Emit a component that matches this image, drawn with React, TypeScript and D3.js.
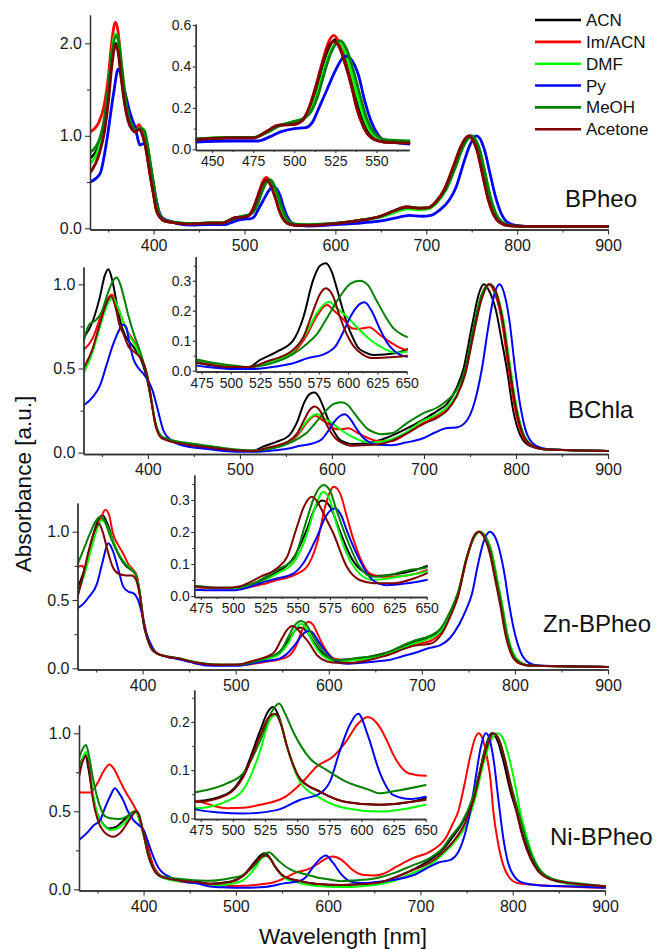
import React, { useEffect, useRef } from 'react'
import * as d3 from 'd3'

type Pt = [number, number]

const solvents = ['ACN', 'Im/ACN', 'DMF', 'Py', 'MeOH', 'Acetone']
const solventColors = ['#000000', '#ff0000', '#00ff00', '#0000ff', '#008000', '#800000']
const panelNames = ['BPheo', 'BChla', 'Zn-BPheo', 'Ni-BPheo']

const mainXTicks = [400, 500, 600, 700, 800, 900]
const mainXMinor = [350, 450, 550, 650, 750, 850]
const bpheoYTicks = [0, 1, 2]
const bpheoYMinor = [0.5, 1.5]
const otherYTicks = [0, 0.5, 1]
const otherYMinor = [0.25, 0.75]
const inset1XTicks = [450, 475, 500, 525, 550]
const inset1XMinor = [462.5, 487.5, 512.5, 537.5, 562.5]
const inset1YTicks = [0, 0.2, 0.4, 0.6]
const inset1YMinor = [0.1, 0.3, 0.5]
const insetXTicks = [475, 500, 525, 550, 575, 600, 625, 650]
const insetXMinor = [487.5, 512.5, 537.5, 562.5, 587.5, 612.5, 637.5]
const insetYTicks = [0, 0.1, 0.2, 0.3]
const insetYMinor = [0.05, 0.15, 0.25, 0.35]
const inset4YTicks = [0, 0.1, 0.2]
const inset4YMinor = [0.05, 0.15, 0.25]

// ---------- BPheo
const bpheoACN: Pt[] = [[330,0.76],[340,0.9],[346,1.15],[350,1.45],[354,1.82],[358,2.0],[361,1.93],[364,1.7],[368,1.38],[372,1.18],[376,1.08],[380,1.05],[384,1.08],[388,1.01],[392,0.84],[396,0.6],[400,0.37],[403,0.2],[407,0.12],[412,0.08],[420,0.066],[440,0.047],[460,0.055],[475,0.055],[483,0.085],[490,0.115],[500,0.125],[505,0.14],[509,0.19],[513,0.28],[517,0.4],[521,0.49],[525,0.53],[528,0.51],[532,0.42],[536,0.3],[539,0.2],[543,0.11],[548,0.055],[555,0.035],[570,0.032],[600,0.05],[630,0.09],[650,0.13],[665,0.19],[678,0.225],[692,0.21],[702,0.22],[711,0.28],[721,0.42],[731,0.67],[739,0.88],[744,0.97],[748,1.0],[752,0.96],[757,0.84],[763,0.58],[769,0.32],[775,0.15],[781,0.07],[791,0.03],[820,0.02],[900,0.02]]
const bpheoIm: Pt[] = [[330,1.04],[340,1.15],[346,1.35],[350,1.62],[354,2.02],[358,2.23],[361,2.12],[364,1.8],[368,1.42],[372,1.2],[376,1.1],[380,1.08],[384,1.12],[388,1.03],[392,0.85],[396,0.6],[400,0.37],[403,0.2],[407,0.12],[412,0.08],[420,0.065],[440,0.048],[460,0.055],[475,0.055],[483,0.085],[490,0.115],[500,0.12],[505,0.14],[509,0.2],[513,0.3],[517,0.42],[521,0.52],[524,0.55],[527,0.52],[531,0.42],[535,0.3],[538,0.2],[542,0.11],[547,0.055],[555,0.035],[570,0.03],[600,0.05],[630,0.09],[650,0.13],[665,0.19],[678,0.23],[692,0.215],[702,0.22],[710,0.28],[720,0.42],[730,0.67],[738,0.88],[743,0.97],[747,1.0],[751,0.96],[756,0.84],[762,0.58],[768,0.32],[774,0.15],[780,0.07],[790,0.03],[820,0.02],[900,0.02]]
const bpheoDMF: Pt[] = [[330,0.7],[340,0.88],[346,1.15],[350,1.48],[354,1.9],[358,2.1],[361,2.05],[364,1.78],[368,1.45],[372,1.22],[376,1.1],[380,1.06],[385,1.08],[389,1.07],[393,0.9],[397,0.65],[401,0.38],[405,0.18],[409,0.11],[414,0.08],[420,0.07],[440,0.05],[460,0.058],[475,0.057],[483,0.08],[490,0.11],[500,0.135],[506,0.15],[510,0.19],[514,0.27],[518,0.38],[522,0.47],[527,0.52],[531,0.47],[535,0.36],[539,0.24],[543,0.14],[548,0.07],[555,0.045],[570,0.035],[600,0.05],[630,0.09],[650,0.12],[665,0.17],[680,0.21],[692,0.2],[702,0.21],[712,0.28],[722,0.42],[732,0.66],[740,0.87],[746,0.97],[750,1.0],[754,0.96],[759,0.84],[765,0.58],[771,0.32],[777,0.15],[783,0.07],[793,0.03],[820,0.02],[900,0.02]]
const bpheoPy: Pt[] = [[330,0.5],[341,0.59],[348,0.92],[356,1.46],[361,1.72],[367,1.53],[374,1.25],[380,1.08],[385,0.9],[390,0.92],[393,0.88],[396,0.7],[400,0.48],[403,0.3],[406,0.18],[410,0.11],[420,0.07],[440,0.035],[460,0.04],[478,0.04],[485,0.06],[492,0.085],[500,0.1],[507,0.105],[511,0.13],[515,0.2],[520,0.29],[525,0.38],[530,0.445],[532,0.45],[535,0.43],[539,0.36],[543,0.23],[547,0.13],[551,0.07],[556,0.04],[570,0.025],[600,0.04],[630,0.06],[650,0.08],[665,0.11],[682,0.14],[695,0.13],[705,0.14],[715,0.2],[725,0.3],[733,0.45],[740,0.67],[748,0.9],[755,1.0],[759,0.97],[764,0.85],[770,0.6],[776,0.35],[782,0.17],[790,0.06],[800,0.03],[820,0.02],[900,0.02]]
const bpheoMeOH: Pt[] = [[330,0.82],[340,0.95],[346,1.2],[350,1.5],[354,1.88],[359,2.08],[362,2.0],[365,1.75],[369,1.42],[373,1.2],[377,1.1],[381,1.06],[386,1.08],[390,1.05],[394,0.86],[398,0.6],[402,0.35],[406,0.17],[410,0.1],[415,0.08],[420,0.07],[440,0.05],[460,0.058],[475,0.057],[483,0.08],[490,0.11],[500,0.135],[506,0.15],[510,0.18],[514,0.25],[518,0.36],[522,0.46],[528,0.525],[532,0.48],[536,0.38],[540,0.26],[544,0.15],[549,0.075],[556,0.045],[570,0.04],[600,0.055],[630,0.09],[650,0.13],[665,0.19],[680,0.23],[692,0.22],[702,0.22],[712,0.29],[722,0.43],[732,0.66],[740,0.87],[746,0.97],[750,1.0],[754,0.96],[759,0.84],[765,0.58],[771,0.32],[777,0.15],[783,0.07],[793,0.03],[820,0.02],[900,0.02]]
const bpheoAcetone: Pt[] = [[330,0.6],[340,0.8],[346,1.05],[350,1.35],[354,1.75],[358,1.98],[361,1.9],[364,1.65],[368,1.35],[372,1.16],[376,1.07],[380,1.04],[384,1.07],[388,1.0],[392,0.83],[396,0.58],[400,0.36],[403,0.2],[407,0.12],[412,0.08],[420,0.065],[440,0.046],[460,0.055],[475,0.055],[483,0.085],[490,0.115],[500,0.12],[505,0.14],[509,0.2],[513,0.3],[517,0.41],[521,0.5],[524,0.52],[527,0.5],[531,0.41],[535,0.3],[538,0.2],[542,0.11],[547,0.055],[555,0.035],[570,0.03],[600,0.05],[630,0.09],[650,0.13],[665,0.19],[678,0.23],[692,0.215],[702,0.22],[710,0.28],[720,0.42],[730,0.67],[738,0.88],[743,0.97],[747,1.0],[751,0.96],[756,0.84],[762,0.58],[768,0.32],[774,0.15],[780,0.07],[790,0.03],[820,0.02],[900,0.02]]

// ---------- BChla
const bchlaACN: Pt[] = [[330,0.68],[340,0.78],[348,0.93],[353,1.05],[357,1.09],[361,1.03],[365,0.92],[370,0.78],[375,0.7],[384,0.63],[392,0.56],[398,0.46],[403,0.33],[408,0.18],[414,0.1],[420,0.08],[440,0.05],[460,0.035],[480,0.02],[500,0.01],[515,0.012],[525,0.036],[539,0.063],[553,0.1],[562,0.18],[570,0.3],[576,0.35],[581,0.358],[586,0.33],[590,0.28],[595,0.21],[599,0.158],[604,0.11],[608,0.08],[615,0.06],[622,0.052],[640,0.058],[660,0.09],[680,0.14],[700,0.2],[715,0.25],[725,0.29],[735,0.38],[743,0.5],[752,0.75],[760,0.95],[765,1.0],[770,0.97],[778,0.85],[785,0.65],[790,0.5],[797,0.25],[805,0.1],[815,0.04],[830,0.02],[900,0.01]]
const bchlaIm: Pt[] = [[330,0.61],[340,0.68],[348,0.8],[355,0.9],[361,0.94],[366,0.88],[373,0.78],[380,0.7],[385,0.66],[391,0.58],[396,0.52],[400,0.44],[404,0.3],[408,0.17],[414,0.1],[420,0.08],[440,0.055],[460,0.04],[480,0.025],[500,0.012],[515,0.01],[530,0.025],[553,0.06],[565,0.12],[573,0.18],[582,0.219],[588,0.2],[595,0.175],[604,0.141],[610,0.14],[618,0.145],[627,0.12],[638,0.09],[650,0.07],[665,0.07],[680,0.11],[699,0.175],[715,0.22],[725,0.26],[735,0.33],[745,0.48],[753,0.7],[762,0.92],[770,1.0],[776,0.96],[784,0.8],[792,0.5],[799,0.26],[807,0.1],[817,0.04],[830,0.02],[900,0.01]]
const bchlaDMF: Pt[] = [[330,0.47],[340,0.6],[348,0.75],[356,0.88],[362,0.92],[367,0.87],[373,0.78],[379,0.7],[385,0.65],[391,0.58],[396,0.52],[400,0.44],[404,0.31],[408,0.18],[414,0.1],[420,0.08],[440,0.055],[460,0.04],[480,0.025],[500,0.013],[515,0.012],[530,0.025],[553,0.065],[565,0.13],[573,0.19],[584,0.23],[590,0.21],[599,0.18],[610,0.135],[620,0.1],[630,0.075],[640,0.06],[650,0.063],[665,0.08],[680,0.12],[699,0.19],[715,0.23],[725,0.27],[735,0.34],[745,0.47],[753,0.68],[762,0.9],[772,1.0],[778,0.96],[786,0.8],[794,0.5],[801,0.26],[809,0.1],[819,0.04],[830,0.02],[900,0.01]]
const bchlaPy: Pt[] = [[330,0.28],[340,0.33],[348,0.4],[355,0.52],[362,0.64],[368,0.72],[373,0.76],[376,0.75],[380,0.65],[384,0.56],[390,0.5],[395,0.47],[400,0.43],[405,0.37],[410,0.27],[417,0.13],[425,0.075],[440,0.04],[460,0.025],[480,0.012],[500,0.006],[520,0.006],[540,0.015],[553,0.025],[565,0.041],[581,0.058],[589,0.08],[596,0.13],[602,0.18],[608,0.215],[614,0.228],[620,0.2],[627,0.14],[633,0.095],[639,0.067],[650,0.047],[665,0.045],[680,0.06],[699,0.086],[712,0.12],[724,0.145],[735,0.15],[745,0.18],[755,0.3],[763,0.5],[770,0.75],[776,0.93],[782,1.0],[787,0.95],[793,0.78],[799,0.5],[805,0.27],[812,0.11],[822,0.04],[835,0.02],[900,0.01]]
const bchlaMeOH: Pt[] = [[330,0.66],[336,0.76],[344,0.79],[350,0.84],[356,0.94],[362,1.02],[366,1.04],[370,1.0],[374,0.92],[379,0.81],[385,0.7],[391,0.61],[396,0.52],[400,0.43],[404,0.3],[408,0.18],[414,0.1],[420,0.085],[440,0.06],[460,0.045],[480,0.03],[500,0.018],[515,0.012],[530,0.02],[553,0.055],[565,0.09],[573,0.12],[581,0.169],[593,0.247],[602,0.29],[610,0.3],[617,0.285],[624,0.236],[632,0.18],[639,0.14],[646,0.12],[653,0.11],[665,0.115],[680,0.17],[699,0.234],[715,0.27],[725,0.31],[735,0.37],[745,0.5],[753,0.72],[762,0.93],[771,1.0],[777,0.96],[785,0.8],[793,0.5],[800,0.27],[808,0.11],[818,0.04],[830,0.02],[900,0.01]]
const bchlaAcetone: Pt[] = [[330,0.5],[340,0.62],[348,0.77],[355,0.89],[360,0.93],[365,0.86],[369,0.76],[373,0.71],[379,0.63],[385,0.6],[391,0.57],[396,0.52],[400,0.44],[404,0.3],[408,0.17],[414,0.09],[420,0.075],[440,0.05],[460,0.035],[480,0.022],[500,0.012],[515,0.012],[530,0.03],[553,0.069],[562,0.113],[570,0.197],[576,0.255],[581,0.275],[587,0.25],[593,0.18],[599,0.12],[605,0.08],[612,0.055],[620,0.042],[635,0.045],[650,0.05],[665,0.07],[680,0.11],[699,0.17],[715,0.21],[725,0.25],[735,0.33],[745,0.47],[753,0.68],[762,0.9],[771,1.0],[777,0.97],[785,0.8],[793,0.5],[800,0.26],[808,0.1],[818,0.04],[830,0.02],[900,0.01]]

// ---------- Zn-BPheo
const znACN: Pt[] = [[330,0.585],[340,0.78],[347,0.98],[352,1.08],[357,1.12],[362,1.06],[368,0.94],[375,0.82],[382,0.75],[388,0.72],[393,0.68],[397,0.55],[401,0.33],[405,0.22],[409,0.15],[415,0.11],[426,0.085],[440,0.07],[451,0.05],[470,0.03],[485,0.025],[500,0.025],[510,0.03],[521,0.045],[534,0.075],[547,0.12],[557,0.206],[563,0.27],[569,0.298],[575,0.28],[583,0.2],[588,0.15],[593,0.11],[598,0.085],[604,0.07],[611,0.063],[625,0.068],[640,0.08],[660,0.11],[680,0.16],[691,0.19],[709,0.23],[720,0.28],[730,0.4],[739,0.55],[748,0.8],[756,0.96],[762,1.0],[767,0.97],[774,0.85],[780,0.65],[785,0.48],[791,0.25],[798,0.1],[806,0.04],[815,0.02],[900,0.01]]
const znIm: Pt[] = [[330,0.74],[335,0.75],[338,0.72],[342,0.82],[348,0.98],[355,1.1],[360,1.16],[364,1.12],[368,0.99],[374,0.9],[379,0.84],[385,0.76],[390,0.72],[394,0.67],[398,0.5],[402,0.31],[406,0.2],[410,0.14],[416,0.11],[426,0.085],[440,0.07],[451,0.05],[470,0.028],[485,0.024],[500,0.024],[510,0.026],[521,0.035],[534,0.05],[547,0.065],[557,0.09],[565,0.165],[572,0.289],[578,0.341],[583,0.32],[588,0.25],[593,0.18],[598,0.123],[606,0.07],[615,0.06],[630,0.062],[650,0.081],[665,0.11],[680,0.15],[691,0.175],[709,0.2],[720,0.26],[730,0.38],[739,0.54],[748,0.8],[756,0.96],[762,1.0],[768,0.97],[775,0.85],[781,0.64],[786,0.47],[792,0.24],[799,0.09],[807,0.04],[815,0.02],[900,0.01]]
const znDMF: Pt[] = [[330,0.55],[338,0.7],[345,0.88],[351,1.02],[356,1.085],[361,1.05],[367,0.95],[374,0.84],[381,0.77],[387,0.73],[392,0.69],[397,0.55],[401,0.33],[405,0.22],[409,0.15],[415,0.11],[426,0.085],[440,0.07],[451,0.05],[470,0.028],[485,0.025],[500,0.024],[510,0.028],[521,0.042],[534,0.07],[547,0.105],[557,0.19],[563,0.27],[570,0.326],[575,0.3],[580,0.227],[588,0.133],[598,0.07],[608,0.05],[620,0.055],[635,0.065],[650,0.077],[665,0.11],[680,0.15],[691,0.18],[709,0.22],[720,0.27],[730,0.39],[739,0.55],[748,0.8],[756,0.96],[763,1.0],[768,0.97],[775,0.85],[781,0.65],[786,0.48],[792,0.25],[799,0.1],[807,0.04],[815,0.02],[900,0.01]]
const znPy: Pt[] = [[330,0.44],[336,0.47],[342,0.52],[351,0.62],[357,0.78],[363,0.915],[368,0.86],[374,0.72],[379,0.6],[385,0.56],[390,0.55],[395,0.5],[400,0.38],[404,0.26],[410,0.16],[415,0.11],[426,0.085],[440,0.065],[451,0.045],[470,0.02],[485,0.018],[500,0.018],[510,0.025],[521,0.04],[534,0.055],[547,0.071],[554,0.1],[565,0.185],[572,0.25],[579,0.274],[584,0.25],[588,0.206],[598,0.113],[608,0.05],[619,0.034],[635,0.04],[650,0.05],[665,0.06],[680,0.09],[691,0.11],[709,0.15],[720,0.17],[730,0.22],[740,0.32],[747,0.42],[754,0.55],[760,0.75],[766,0.92],[773,1.0],[778,0.97],[784,0.85],[789,0.68],[793,0.5],[799,0.28],[806,0.12],[815,0.04],[825,0.02],[900,0.01]]
const znMeOH: Pt[] = [[330,0.76],[336,0.86],[343,0.98],[349,1.07],[354,1.11],[359,1.08],[365,0.97],[372,0.86],[379,0.78],[386,0.73],[392,0.69],[397,0.55],[401,0.33],[405,0.22],[409,0.15],[415,0.11],[426,0.088],[440,0.072],[451,0.053],[470,0.032],[485,0.027],[500,0.026],[510,0.032],[521,0.05],[534,0.082],[547,0.116],[557,0.237],[563,0.31],[570,0.347],[575,0.33],[580,0.27],[588,0.18],[598,0.092],[608,0.06],[620,0.065],[635,0.08],[650,0.09],[665,0.12],[680,0.17],[691,0.2],[709,0.24],[720,0.29],[730,0.41],[739,0.56],[748,0.81],[756,0.96],[762,1.0],[767,0.97],[774,0.86],[780,0.66],[785,0.49],[791,0.26],[798,0.1],[806,0.04],[815,0.02],[900,0.01]]
const znAcetone: Pt[] = [[330,0.52],[336,0.68],[342,0.86],[348,1.0],[353,1.06],[357,1.0],[362,0.87],[368,0.74],[375,0.69],[382,0.68],[388,0.68],[392,0.66],[397,0.53],[401,0.33],[405,0.22],[409,0.15],[415,0.11],[426,0.085],[440,0.07],[451,0.05],[470,0.03],[485,0.026],[500,0.027],[508,0.034],[521,0.06],[534,0.087],[542,0.123],[549,0.21],[555,0.28],[561,0.31],[566,0.29],[570,0.258],[578,0.193],[588,0.092],[598,0.05],[609,0.04],[624,0.04],[640,0.055],[650,0.071],[665,0.1],[680,0.14],[691,0.165],[709,0.18],[720,0.24],[730,0.37],[739,0.53],[748,0.8],[756,0.97],[761,1.0],[766,0.97],[773,0.84],[779,0.64],[784,0.47],[790,0.24],[797,0.09],[805,0.035],[815,0.02],[900,0.01]]

// ---------- Ni-BPheo
const niACN: Pt[] = [[330,0.78],[334,0.84],[337,0.86],[340,0.78],[345,0.6],[350,0.48],[356,0.42],[363,0.39],[370,0.4],[378,0.44],[385,0.48],[391,0.5],[396,0.44],[400,0.35],[405,0.22],[410,0.14],[416,0.09],[425,0.07],[440,0.055],[460,0.045],[472,0.036],[495,0.05],[508,0.09],[521,0.18],[527,0.22],[531,0.231],[536,0.21],[542,0.15],[552,0.083],[568,0.055],[588,0.034],[614,0.028],[640,0.035],[660,0.05],[674,0.08],[690,0.12],[710,0.187],[725,0.26],[735,0.335],[745,0.42],[755,0.55],[763,0.72],[770,0.9],[777,1.0],[783,0.96],[790,0.82],[797,0.64],[804,0.5],[812,0.33],[820,0.2],[828,0.12],[840,0.07],[855,0.045],[875,0.03],[900,0.02]]
const niIm: Pt[] = [[330,0.62],[342,0.62],[350,0.68],[357,0.76],[363,0.8],[368,0.77],[374,0.7],[380,0.63],[385,0.58],[390,0.53],[394,0.48],[399,0.38],[403,0.316],[407,0.22],[410,0.16],[416,0.1],[425,0.07],[440,0.05],[460,0.04],[472,0.036],[495,0.021],[508,0.022],[521,0.028],[541,0.045],[557,0.083],[565,0.107],[578,0.128],[588,0.159],[597,0.195],[605,0.21],[614,0.19],[620,0.16],[625,0.131],[637,0.093],[650,0.088],[660,0.1],[674,0.145],[692,0.2],[710,0.24],[728,0.335],[735,0.42],[741,0.5],[748,0.68],[755,0.88],[760,0.98],[763,1.0],[767,0.97],[772,0.85],[776,0.7],[779,0.5],[784,0.3],[790,0.15],[797,0.07],[805,0.04],[820,0.03],[850,0.02],[900,0.01]]
const niDMF: Pt[] = [[330,0.74],[334,0.84],[337.6,0.88],[341,0.8],[345,0.62],[350,0.48],[357,0.41],[364,0.38],[372,0.39],[380,0.43],[386,0.47],[391,0.5],[395,0.45],[400,0.35],[405,0.22],[410,0.14],[416,0.09],[425,0.065],[440,0.05],[460,0.04],[472,0.021],[495,0.035],[508,0.059],[521,0.138],[528,0.2],[533,0.214],[537,0.2],[542,0.15],[552,0.077],[568,0.042],[588,0.021],[614,0.014],[635,0.02],[650,0.028],[674,0.06],[690,0.1],[710,0.155],[725,0.23],[738,0.31],[750,0.42],[760,0.6],[768,0.8],[776,0.95],[784,1.0],[790,0.96],[797,0.82],[803,0.66],[808,0.5],[815,0.34],[822,0.21],[830,0.12],[842,0.065],[855,0.04],[875,0.025],[900,0.02]]
const niPy: Pt[] = [[330,0.316],[340,0.37],[346,0.41],[353,0.444],[358,0.52],[364,0.6],[369,0.647],[373,0.62],[378,0.57],[383,0.5],[389,0.444],[395,0.41],[400,0.38],[405,0.3],[410.5,0.21],[416,0.14],[421,0.104],[430,0.075],[443,0.05],[460,0.035],[472,0.018],[490,0.012],[508,0.01],[534,0.017],[552,0.038],[568,0.052],[575.5,0.076],[583,0.138],[590.8,0.193],[597.5,0.217],[605,0.172],[614,0.097],[625,0.048],[638,0.04],[650,0.045],[670,0.06],[692,0.09],[710,0.145],[721,0.175],[732,0.187],[742,0.25],[749,0.37],[754,0.5],[760,0.72],[765,0.9],[771,1.0],[775,0.96],[780,0.8],[783,0.65],[786,0.5],[790,0.32],[795,0.17],[802,0.08],[812,0.04],[830,0.025],[860,0.02],[900,0.01]]
const niMeOH: Pt[] = [[330,0.84],[334,0.9],[337.6,0.925],[341,0.85],[345.5,0.7],[352.8,0.53],[358,0.47],[364,0.455],[374,0.45],[383,0.47],[390,0.5],[394,0.49],[400,0.36],[405,0.23],[410,0.145],[421,0.08],[443,0.065],[471,0.054],[495,0.072],[508,0.093],[521,0.159],[530,0.22],[536,0.238],[541,0.215],[547,0.179],[560,0.124],[573,0.1],[588,0.076],[605,0.06],[614,0.052],[625,0.056],[650,0.069],[674,0.11],[690,0.15],[710,0.2],[725,0.27],[732,0.33],[745,0.43],[755,0.56],[764,0.75],[772,0.93],[779,1.0],[785,0.96],[792,0.82],[799,0.65],[806,0.5],[814,0.33],[822,0.2],[830,0.12],[842,0.07],[855,0.05],[875,0.035],[900,0.02]]
const niAcetone: Pt[] = [[330,0.72],[334,0.82],[337.6,0.855],[341,0.77],[345,0.58],[350,0.45],[357,0.37],[367,0.337],[376,0.37],[384,0.44],[390,0.49],[393,0.5],[397,0.43],[401,0.33],[405,0.22],[410,0.14],[416,0.09],[425,0.07],[440,0.055],[460,0.045],[472,0.034],[495,0.048],[508,0.085],[521,0.17],[528,0.21],[533,0.217],[538,0.19],[542,0.15],[552,0.083],[568,0.055],[588,0.034],[614,0.028],[635,0.033],[650,0.038],[674,0.08],[690,0.12],[710,0.17],[725,0.24],[736,0.31],[748,0.42],[758,0.58],[766,0.78],[773,0.93],[779,1.0],[785,0.96],[792,0.82],[798,0.65],[804,0.5],[811,0.33],[819,0.2],[827,0.12],[838,0.07],[855,0.045],[875,0.03],[900,0.02]]

const panelSeries = [
  [bpheoACN, bpheoIm, bpheoDMF, bpheoPy, bpheoMeOH, bpheoAcetone],
  [bchlaACN, bchlaIm, bchlaDMF, bchlaPy, bchlaMeOH, bchlaAcetone],
  [znACN, znIm, znDMF, znPy, znMeOH, znAcetone],
  [niACN, niIm, niDMF, niPy, niMeOH, niAcetone],
]

// layout of the four stacked panels and their insets (pixels)
const layout = [
  { xr: [90, 608], yd: [-0.013, 2.306], yr: [229.5, 15], yTicks: bpheoYTicks, yMinor: bpheoYMinor, lw: 2.8, label: [565, 207],
    inset: { xd: [440, 570], xr: [195.7, 409.3], yd: [-0.0034, 0.605], yr: [150, 24], xTicks: inset1XTicks, xMinor: inset1XMinor, yTicks: inset1YTicks, yMinor: inset1YMinor } },
  { xr: [83.5, 608], yd: [-0.0077, 1.103], yr: [454, 267], yTicks: otherYTicks, yMinor: otherYMinor, lw: 2, label: [568, 418],
    inset: { xd: [470, 650], xr: [195.7, 406.7], yd: [-0.0027, 0.38], yr: [371.5, 256.7], xTicks: insetXTicks, xMinor: insetXMinor, yTicks: insetYTicks, yMinor: insetYMinor } },
  { xr: [77.5, 608], yd: [-0.0088, 1.21], yr: [669.5, 503], yTicks: otherYTicks, yMinor: otherYMinor, lw: 2, label: [543, 632],
    inset: { xd: [470, 650], xr: [194.3, 426.7], yd: [-0.003, 0.378], yr: [597, 475], xTicks: insetXTicks, xMinor: insetXMinor, yTicks: insetYTicks, yMinor: insetYMinor } },
  { xr: [79, 605], yd: [-0.0077, 1.053], yr: [890.5, 725], yTicks: otherYTicks, yMinor: otherYMinor, lw: 2, label: [550, 845],
    inset: { xd: [470, 650], xr: [194.3, 425.7], yd: [-0.0014, 0.266], yr: [819, 690], xTicks: insetXTicks, xMinor: insetXMinor, yTicks: inset4YTicks, yMinor: inset4YMinor } },
]

const FONT = '"Liberation Sans", Arial, Helvetica, sans-serif'
const AXIS_COLOR = '#333'

export default function App() {
  const chart = useRef<SVGSVGElement | null>(null)

  const styleAxis = (g: any, fontSize: number) => {
    g.attr('font-size', fontSize).attr('font-family', FONT)
    g.select('.domain').attr('stroke', AXIS_COLOR).attr('stroke-width', 1.3)
    g.selectAll('.tick line').attr('stroke', AXIS_COLOR).attr('stroke-width', 1.1)
    g.selectAll('.tick text').attr('fill', '#1a1a1a')
  }

  const drawAxes = (g: any, x: any, y: any, o: any, big: boolean) => {
    const fs = big ? 16 : 14
    const major = big ? 5 : 3
    const minor = big ? 3 : 2
    const fmt = big ? (d: number) => String(d) : (d: number) => String(d)
    const y0 = y.range()[0]
    const x0 = x.range()[0]

    g.append('g').attr('transform', `translate(0,${y0})`)
      .call(d3.axisBottom(x).tickValues(o.xMinor).tickSize(minor).tickSizeOuter(0).tickFormat(() => ''))
      .call((s: any) => styleAxis(s, fs))
    g.append('g').attr('transform', `translate(0,${y0})`)
      .call(d3.axisBottom(x).tickValues(o.xTicks).tickSize(major).tickSizeOuter(0).tickPadding(big ? 5 : 3.5).tickFormat(fmt as any))
      .call((s: any) => styleAxis(s, fs))

    g.append('g').attr('transform', `translate(${x0},0)`)
      .call(d3.axisLeft(y).tickValues(o.yMinor).tickSize(minor).tickSizeOuter(0).tickFormat(() => ''))
      .call((s: any) => styleAxis(s, fs))
    g.append('g').attr('transform', `translate(${x0},0)`)
      .call(d3.axisLeft(y).tickValues(o.yTicks).tickSize(major).tickSizeOuter(0).tickPadding(big ? 3 : 1.5).tickFormat(d3.format('.1f') as any))
      .call((s: any) => styleAxis(s, fs))
  }

  const drawLines = (g: any, x: any, y: any, series: Pt[][], clipId: string, lw: number, xd: number[]) => {
    const [xa, xb] = x.range()
    const [ya, yb] = y.range()
    g.append('clipPath').attr('id', clipId)
      .append('rect').attr('x', xa).attr('y', yb - 2).attr('width', xb - xa + 1).attr('height', ya - yb + 2)
    const getLine = d3.line<Pt>()
      .curve(d3.curveMonotoneX)
      .x(d => x(d[0]))
      .y(d => y(d[1]))
    const lg = g.append('g').attr('clip-path', `url(#${clipId})`)
    series.forEach((s, i) => {
      const pts = s.filter(d => d[0] >= xd[0] - 15 && d[0] <= xd[1] + 15)
      lg.append('path')
        .datum(pts)
        .attr('fill', 'none')
        .attr('stroke', solventColors[i])
        .attr('stroke-width', lw)
        .attr('stroke-linejoin', 'round')
        .attr('stroke-linecap', 'round')
        .attr('d', getLine)
    })
  }

  const drawChart = (svg: any) => {
    svg.selectAll('*').remove()

    layout.forEach((p, pi) => {
      const g = svg.append('g')
      const x = d3.scaleLinear().domain([330, 900]).range(p.xr)
      const y = d3.scaleLinear().domain(p.yd).range(p.yr)
      drawLines(g, x, y, panelSeries[pi], `clip-main-${pi}`, p.lw, [330, 900])
      drawAxes(g, x, y, { xTicks: mainXTicks, xMinor: mainXMinor, yTicks: p.yTicks, yMinor: p.yMinor }, true)

      const ins = p.inset
      const xi = d3.scaleLinear().domain(ins.xd).range(ins.xr)
      const yi = d3.scaleLinear().domain(ins.yd).range(ins.yr)
      drawLines(g, xi, yi, panelSeries[pi], `clip-inset-${pi}`, p.lw, ins.xd)
      drawAxes(g, xi, yi, ins, false)

      g.append('text')
        .attr('x', p.label[0]).attr('y', p.label[1])
        .attr('font-family', FONT).attr('font-size', 24).attr('fill', '#111')
        .text(panelNames[pi])
    })

    // legend
    const lgd = svg.append('g')
    solvents.forEach((s, i) => {
      const cy = 20 + i * 21.85
      lgd.append('line')
        .attr('x1', 535).attr('x2', 581).attr('y1', cy).attr('y2', cy)
        .attr('stroke', solventColors[i]).attr('stroke-width', 2.6)
      lgd.append('text')
        .attr('x', 586).attr('y', cy + 6)
        .attr('font-family', FONT).attr('font-size', 17).attr('fill', '#111')
        .text(s)
    })

    // axis titles
    svg.append('text')
      .attr('transform', 'translate(31,484) rotate(-90)')
      .attr('text-anchor', 'middle')
      .attr('font-family', FONT).attr('font-size', 22.5).attr('fill', '#111')
      .text('Absorbance [a.u.]')
    svg.append('text')
      .attr('x', 343).attr('y', 944)
      .attr('text-anchor', 'middle')
      .attr('font-family', FONT).attr('font-size', 22.5).attr('fill', '#111')
      .text('Wavelength [nm]')
  }

  useEffect(() => {
    drawChart(d3.select(chart.current))
  }, [])

  return (
    <svg
      ref={chart}
      width={657}
      height={949}
      viewBox="0 0 657 949"
      style={{ position: 'absolute', left: 0, top: 0, background: '#fff' }}
    />
  )
}
